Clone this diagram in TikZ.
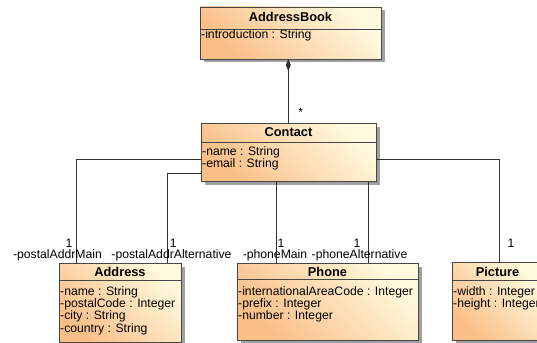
\documentclass[tikz,border=0pt]{standalone}
\usepackage{fontspec}
\setmainfont{Liberation Sans}
\usetikzlibrary{arrows.meta}
\definecolor{orangecol}{RGB}{250,190,135}
\definecolor{palecol}{RGB}{255,250,222}
\definecolor{boxborder}{RGB}{70,70,70}
\definecolor{shadowgray}{RGB}{160,160,160}
\definecolor{linegray}{RGB}{50,50,50}
\tikzset{
  umlline/.style={draw=linegray, line width=0.9pt},
  boxshadow/.style={fill=shadowgray, draw=none},
  boxbody/.style={draw=boxborder, line width=0.9pt, top color=palecol, bottom color=orangecol, shading angle=-45, inner sep=0pt, outer sep=0pt, anchor=north west},
  divider/.style={draw=boxborder, line width=0.9pt},
  classtitle/.style={font=\fontsize{12.8}{12.8}\selectfont\bfseries, inner sep=0pt, anchor=base},
  attrs/.style={font=\fontsize{12.2}{12.3}\selectfont, inner sep=0pt, align=left, anchor=north west},
  lbl/.style={font=\fontsize{12.2}{12.3}\selectfont, inner sep=0pt}
}
% name, x1, y1, x2, y2, divider y, title baseline, title
\newcommand\umlclassbox[8]{%
  \fill[boxshadow] (#2+3.5,#3+3.5) rectangle (#4+3.5,#5+3.5);
  \node[boxbody, minimum width={#4-#2}, minimum height={#5-#3}] (#1) at (#2,#3) {};
  \draw[divider] (#1.west |- 0,#6) -- (#1.east |- 0,#6);
  \node[classtitle] (#1-title) at ({(#2+#4)/2},#7) {#8};
}
\begin{document}
\begin{tikzpicture}[x=1pt,y=-1pt]
\useasboundingbox (0,0) rectangle (537,342);
\clip (0,0) rectangle (537,342);

\umlclassbox{ab}{200}{7}{381}{59}{29}{21.3}{AddressBook}
\node[attrs] (ab-attrs) at (201,29.8) {-introduction : String};

\umlclassbox{contact}{201}{123}{376}{181}{142.3}{136}{Contact}
\node[attrs] (contact-attrs) at (202,146) {-name : String\\-email : String};

\umlclassbox{address}{59}{263.3}{181}{342}{280}{276.5}{Address}
\node[attrs] (address-attrs) at (60,286.3) {-name : String\\-postalCode : Integer\\-city : String\\-country : String};

\umlclassbox{phone}{237}{263.3}{418}{340}{279.5}{276.3}{Phone}
\node[attrs] (phone-attrs) at (238,286.3) {-internationalAreaCode : Integer\\-prefix : Integer\\-number : Integer};

\umlclassbox{picture}{452}{262.5}{543}{340}{280}{276.3}{Picture}
\node[attrs] (picture-attrs) at (453,286.3) {-width : Integer\\-height : Integer};

% composition
\draw[umlline, -{Diamond[length=12pt,width=5pt]}] (contact.north -| 288.3,0) -- (ab.south -| 288.3,0);
\node[lbl] (star) at (300.7,112.5) {*};

% associations
\draw[umlline] (contact.west |- 0,159.3) -| (address.north -| 76,0);
\draw[umlline] (contact.west |- 0,173.3) -| (address.north -| 167.7,0);
\draw[umlline] (contact.south -| 276,0) -- (phone.north -| 276,0);
\draw[umlline] (contact.south -| 368.5,0) -- (phone.north -| 368.5,0);
\draw[umlline] (contact.east |- 0,159.3) -| (picture.north -| 499,0);

% multiplicities
\node[lbl] (m1) at (69,243.3) {1};
\node[lbl] (m2) at (173.3,243.3) {1};
\node[lbl] (m3) at (281,243.3) {1};
\node[lbl] (m4) at (357,243.3) {1};
\node[lbl] (m5) at (511,243.3) {1};

% role names
\node[lbl, anchor=base] (r1) at (57.5,258.5) {-postalAddrMain};
\node[lbl, anchor=base] (r2) at (171.5,258.5) {-postalAddrAlternative};
\node[lbl, anchor=base] (r3) at (275,258.5) {-phoneMain};
\node[lbl, anchor=base] (r4) at (359.5,258.5) {-phoneAlternative};
\end{tikzpicture}
\end{document}
